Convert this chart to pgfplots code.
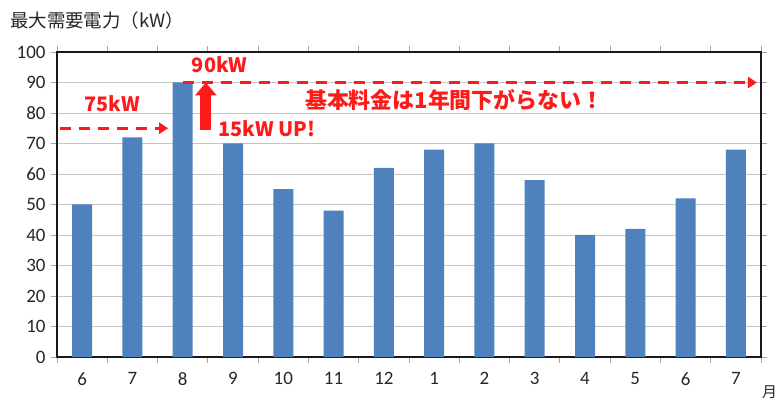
\documentclass[border=0pt]{standalone}
\usepackage{pgfplots}
\pgfplotsset{compat=1.18}
\usepackage{fontspec}
\setmainfont{Carlito}
\newfontfamily\jp{Noto Sans CJK JP}
\usetikzlibrary{arrows.meta}
\definecolor{barblue}{HTML}{4F81BD}
\definecolor{annred}{HTML}{FF1A1A}
\begin{document}
\begin{tikzpicture}
\begin{axis}[
  name=ax,
  scale only axis, width=704bp, height=305bp,
  xmin=-0.5, xmax=13.5, ymin=0, ymax=100,
  xtick={0,...,13},
  xticklabels={6,7,8,9,10,11,12,1,2,3,4,5,6,7},
  major x tick style={draw=none},
  minor xtick={-0.5,0.5,...,13.5},
  minor x tick style={gray!70, line width=0.8bp},
  minor tick length=6bp,
  ytick={0,10,...,100},
  major y tick style={gray!70, line width=0.8bp},
  major tick length=6bp,
  tick align=outside,
  ymajorgrids, grid style={gray!45, line width=0.8bp},
  axis line style={black!90, line width=1.6bp},
  ticklabel style={font=\fontsize{19}{21}\selectfont, text=black!85},
  /pgf/number format/assume math mode=true,
  xticklabel style={yshift=-6bp},
  yticklabel style={xshift=-2bp},
  clip=false,
]
\addplot[ybar, bar width=20bp, fill=barblue, draw=none]
  coordinates {(0,50) (1,72) (2,90) (3,70) (4,55) (5,48) (6,62)
               (7,68) (8,70) (9,58) (10,40) (11,42) (12,52) (13,68)};

% annotations
\draw[annred, line width=3bp, dash pattern=on 11bp off 8bp,
      -{Triangle[width=11bp,length=9bp]}]
  (axis cs:-0.44,75) -- (axis cs:1.71,75);
\draw[annred, line width=3bp, dash pattern=on 11bp off 8bp,
      -{Triangle[width=11bp,length=9bp]}]
  (axis cs:2.0,90) -- (axis cs:13.42,90);
\draw[annred, line width=11bp, -{Triangle[width=21bp,length=13bp]}]
  (axis cs:2.46,74.4) -- (axis cs:2.46,90);
\node[annred, font=\jp\bfseries\fontsize{20}{22}\selectfont, inner sep=0pt]
  at (axis cs:0.6,83) {75kW};
\node[annred, font=\jp\bfseries\fontsize{20}{22}\selectfont, inner sep=0pt, anchor=west]
  at (axis cs:2.18,95.7) {90kW};
\node[annred, font=\jp\bfseries\fontsize{20}{22}\selectfont, inner sep=0pt, anchor=west]
  at (axis cs:2.70,75) {15kW UP!};
\node[annred, font=\jp\bfseries\fontsize{22}{24}\selectfont, inner sep=0pt, anchor=west]
  at (axis cs:4.43,84.3) {基本料金は1年間下がらない！};

\coordinate (bl) at (rel axis cs:0,0);
\coordinate (tr) at (rel axis cs:1,1);
\end{axis}
\node[font=\jp\fontsize{18.5}{20}\selectfont, text=black!85, anchor=west, inner sep=0pt]
  at ([xshift=-47bp,yshift=32bp]bl|-tr) {最大需要電力（kW）};
\node[font=\jp\fontsize{15}{17}\selectfont, text=black!85, anchor=west, inner sep=0pt]
  at ([xshift=1bp,yshift=-35bp]tr|-bl) {月};
\pgfresetboundingbox
\path ([xshift=-57bp,yshift=-44bp]bl) rectangle ([xshift=17bp,yshift=52bp]tr);
\end{tikzpicture}
\end{document}
